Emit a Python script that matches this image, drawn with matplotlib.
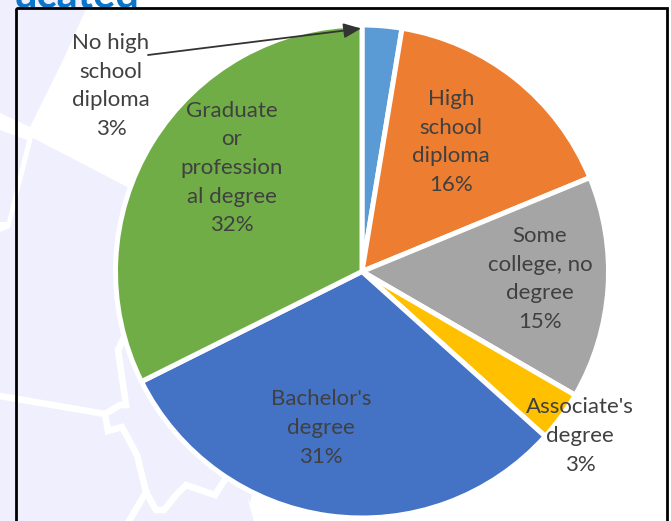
import matplotlib
matplotlib.use("Agg")
import matplotlib.pyplot as plt
from matplotlib.patches import Polygon, Rectangle

W, H = 671, 521
categories = ["No high\nschool\ndiploma", "High\nschool\ndiploma", "Some\ncollege, no\ndegree",
              "Associate's\ndegree", "Bachelor's\ndegree", "Graduate\nor\nprofession\nal degree"]
shares = [2.6, 16.2, 14.6, 3.3, 31.0, 32.4]
percent_labels = ["3%", "16%", "15%", "3%", "31%", "32%"]
colors = ["#5B9BD5", "#ED7D31", "#A5A5A5", "#FFC000", "#4472C4", "#70AD47"]
label_pos = [(111, 86), (451, 142), (540, 279), (580, 436), (321, 428), (232, 168)]

LAV = "#EFEFFD"
bg_polys = [
    [(0, 0), (90, 0), (63, 60), (30, 127), (0, 113)],
    [(0, 130), (27, 140), (7, 222), (0, 222)],
    [(33, 138), (129, 188), (300, 300), (250, 503), (247, 497), (254, 521), (0, 521), (0, 232), (10, 228)],
]
road_a = [(0, 396), (105, 414), (120, 405), (126, 405), (118, 350), (125, 335)]
road_b = [(105, 414), (108, 431), (122, 427), (137, 455), (146, 492), (156, 510), (164, 510),
          (176, 495), (186, 485), (215, 495), (226, 478)]
road_c = [(146, 492), (129, 521)]

fig = plt.figure(figsize=(W / 100, H / 100), dpi=100, facecolor="white")
bg = fig.add_axes([0, 0, 1, 1])
bg.set_xlim(0, W)
bg.set_ylim(H, 0)
bg.axis("off")
for p in bg_polys:
    bg.add_patch(Polygon(p, closed=True, fc=LAV, ec="none", zorder=1))
for road in (road_a, road_b, road_c):
    bg.plot(*zip(*road), color="white", lw=4.8, solid_joinstyle="miter", zorder=2)
bg.text(139, 8, "ucated", ha="right", va="baseline", fontsize=30, fontweight="bold",
        color="#0B76C8", family="Lato", zorder=3)
bg.add_patch(Rectangle((15.5, 8), 651.5, 530, fc="none", ec="black", lw=2, zorder=4))

cx, cy, r = 362, 271.5, 246.5
pie_ax = fig.add_axes([(cx - r) / W, 1 - (cy + r) / H, 2 * r / W, 2 * r / H])
pie_ax.patch.set_alpha(0)
pie_ax.pie(shares, colors=colors, startangle=90, counterclock=False, radius=1, frame=False,
           wedgeprops=dict(edgecolor="white", linewidth=3.6, clip_on=False))
pie_ax.set_xlim(-1, 1)
pie_ax.set_ylim(-1, 1)

top = fig.add_axes([0, 0, 1, 1])
top.set_xlim(0, W)
top.set_ylim(H, 0)
top.axis("off")
for cat, pct, (x, y) in zip(categories, percent_labels, label_pos):
    top.text(x, y, f"{cat}\n{pct}", ha="center", va="center", fontsize=16, color="#404040",
             family="Lato", linespacing=1.54)
top.annotate("", xy=(361, 28.5), xytext=(148, 55),
             arrowprops=dict(arrowstyle="-|>,head_length=1.05,head_width=0.45", color="#333333",
                             lw=1.3, shrinkA=0, shrinkB=0))
fig.savefig("out.png", dpi=100)
